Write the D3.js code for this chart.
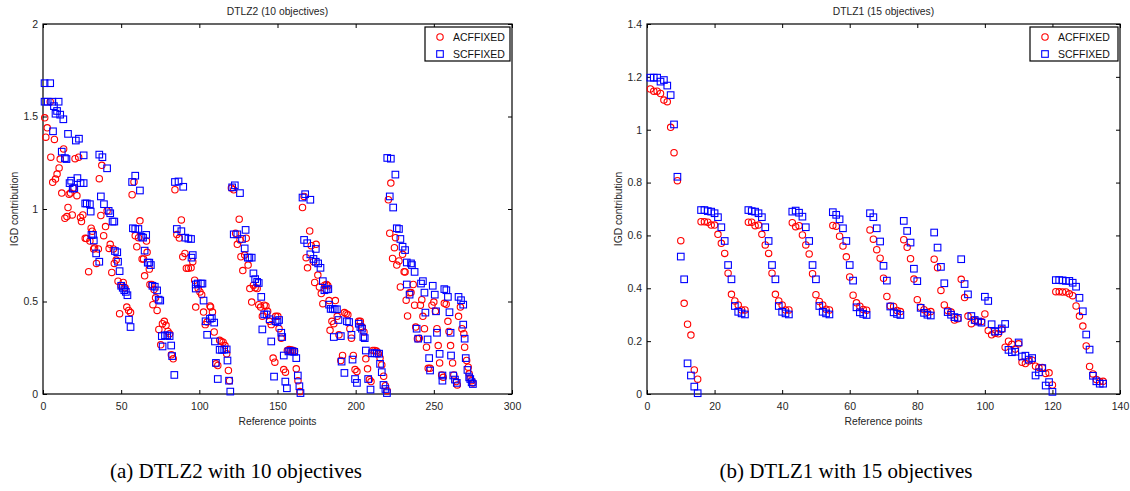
<!DOCTYPE html>
<html><head><meta charset="utf-8">
<script src="https://cdn.jsdelivr.net/npm/d3@7"></script>
<style>
html,body{margin:0;padding:0;background:#fff;}
svg{display:block;}
</style></head>
<body>
<svg id="chart" width="1130" height="491"></svg>
<script>
// ---------------- DATA ----------------
const seriesNames = ["ACFFIXED", "SCFFIXED"];

// Panel (a): DTLZ2, 10 objectives — [reference point, IGD contribution]
const dtlz2Acf = [
[1.1,1.493],[1.8,1.388],[2.7,1.439],[4.6,1.58],[5,1.28],[6.2,1.144],[7.3,1.376],[8,1.162],[9,1.189],[10.3,1.222],[11,1.27],[12,1.086],[13.2,1.325],[14,0.95],[15.3,0.959],[16,1.008],[16.7,1.08],[17.6,1.086],[18.7,0.968],[19.4,1.113],[20.5,1.272],[21.7,1.072],[22.8,1.28],[24,0.954],[24.6,0.932],[25.5,0.968],[27,0.842],[27.8,0.84],[29.2,0.661],[30,0.827],[30.8,0.896],[31.5,0.88],[32.4,0.784],[33,0.79],[34.2,0.706],[35.4,0.784],[36,1.164],[37,0.965],[37.6,1.236],[38.8,0.856],[40,0.905],[41,0.99],[42.3,0.787],[43,0.809],[44,0.657],[45,0.784],[45.6,0.706],[46.8,0.724],[48,0.61],[49,0.434],[50,0.585],[51.3,0.603],[52.5,0.574],[53.6,0.47],[54.8,0.452],[56,0.44],
[57,1.077],[58.2,1.146],[59,0.856],[60,0.796],[61.1,0.845],[62,0.936],[63.4,0.73],[64.3,0.73],[65,0.639],[66.2,0.827],[66.6,0.766],[68,0.675],[68.4,0.592],[69.6,0.592],[70.3,0.483],[71,0.565],[72,0.52],[73,0.452],[74.1,0.349],[75.3,0.266],[76.4,0.38],[77.6,0.393],[78.7,0.371],[79.9,0.338],[81,0.326],[82.1,0.212],[83.3,0.19],
[84.4,1.104],[85.6,0.862],[87.2,0.843],[88.5,0.941],[89.4,0.742],[90.8,0.76],[91.7,0.68],[93,0.68],[94.7,0.682],[95.8,0.715],[97,0.615],[97.7,0.47],[99.3,0.57],[100.4,0.552],[101.5,0.537],[102.7,0.443],[103.8,0.375],[105,0.389],[106.8,0.476],[107.2,0.47],[108.4,0.443],[109.5,0.335],[110.6,0.163],[111.8,0.154],[113,0.29],[114,0.284],[115.2,0.28],[116.4,0.262],[117.5,0.217],[118.6,0.127],[119.3,0.072],
[120.5,1.113],[122,1.104],[123.2,0.869],[124.3,0.809],[125.5,0.945],[126,0.833],[126.6,0.742],[127.8,0.667],[129,0.751],[130,0.842],[131.2,0.697],[132.3,0.57],[133.5,0.497],[134.6,0.588],[135.7,0.574],[137,0.57],[138,0.483],[139.2,0.47],[140.3,0.42],[141.5,0.48],[142.6,0.476],[143.7,0.447],[144.9,0.393],[146,0.375],[147.2,0.194],[148.3,0.172],[148.8,0.42],[150.2,0.42],[151,0.353],[152.4,0.302],[154,0.132],[155.1,0.118],[156.3,0.235],[157.4,0.24],[158.6,0.238],[159.7,0.236],[160.9,0.232],[162,0.136],[163.1,0.072],[164.3,0.013],
[166,1.008],[167,1.068],[168.3,0.737],[169.2,0.682],[170.6,0.881],[171.6,0.802],[173,0.715],[173.8,0.603],[174.7,0.809],[175.8,0.643],[176.8,0.579],[178,0.543],[179,0.488],[180.2,0.588],[181.4,0.592],[182.2,0.585],[183,0.505],[183.6,0.344],[184.8,0.393],[186,0.38],[187,0.505],[188.2,0.42],[189.3,0.32],[190.5,0.181],[191.6,0.208],[192.8,0.44],[193.9,0.434],[195,0.428],[196.3,0.353],[197.3,0.302],[198.5,0.208],[199.6,0.132],[200.8,0.121],[201.9,0.393],[203,0.393],[204.2,0.362],[205.3,0.335],[206.5,0.19],[207.6,0.136],[208.8,0.078],[209.8,0.067],[211,0.235],[212.2,0.235],[213.3,0.232],[214.5,0.217],[215.6,0.194],[216.7,0.157],[217.9,0.096],[219,0.045],[220.2,0.018],
[220.9,1.05],[221.8,0.869],[222.5,1.14],[223.6,0.733],[224.8,0.791],[225.5,0.845],[226.3,0.697],[227.7,0.719],[228.6,0.579],[230,0.755],[231,0.661],[231.6,0.66],[232.3,0.507],[233.2,0.422],[234.5,0.547],[235.4,0.548],[236.8,0.592],[237.7,0.48],[238.4,0.362],[239.5,0.299],[240.7,0.302],[241.4,0.48],[242.3,0.51],[243,0.42],[244,0.353],[245.3,0.253],[246.4,0.139],[247.6,0.139],[248.8,0.48],[250,0.497],[251,0.447],[252,0.353],[252.8,0.262],[253.7,0.168],[255,0.103],[256,0.09],[256.7,0.49],[257.9,0.485],[259,0.393],[259.7,0.338],[260.7,0.262],[262,0.168],[262.8,0.103],[264.3,0.067],[265,0.049],[265.8,0.42],[267,0.47],[268,0.353],[269.2,0.326],[269.7,0.253],[271,0.181],[272,0.145],[272.6,0.109],[273.3,0.085],[274.2,0.072],[275,0.06]
];

const dtlz2Scf = [
[1,1.68],[4.6,1.68],[1,1.58],[3,1.58],[6,1.58],[10,1.58],[7,1.556],[9,1.53],[8,1.515],[11,1.51],[13,1.485],[6.4,1.42],[16,1.406],[21,1.37],[23,1.38],[26,1.29],[36,1.294],[38,1.28],[41,1.22],[12,1.31],[14,1.275],[15,1.27],[17,1.14],[18,1.153],[19,1.11],[20,1.113],[22,1.167],[24,1.14],[26,1.14],[27,1.03],[28,1.03],[30,1.026],[30.5,0.986],[31,0.86],[32,0.86],[32.5,0.83],[34,0.76],[36,0.715],[37,1.068],[39,1.026],[42,0.99],[43,0.977],[44.5,0.932],[45.6,0.932],[46,0.773],[47.5,0.766],[48,0.715],[49,0.664],[50,0.585],[51,0.574],[52,0.561],[53,0.552],[54,0.534],[55,0.402],[56,0.362],
[57,1.146],[59,1.18],[62,1.10],[57.5,0.896],[59,0.892],[61,0.892],[63,0.85],[64,0.845],[66,0.86],[65,0.775],[67,0.71],[68,0.71],[69,0.697],[70,0.585],[71.5,0.58],[73,0.56],[74,0.51],[75,0.505],[76,0.313],[76.5,0.257],[78,0.317],[79.5,0.317],[81,0.313],[82,0.262],[82.6,0.205],[84,0.103],
[84.4,1.146],[86.7,1.149],[89.7,1.12],[85.6,0.892],[88.5,0.88],[91,0.845],[93,0.84],[94.7,0.838],[95.8,0.751],[95,0.737],[97.7,0.592],[99,0.597],[101,0.597],[102,0.597],[97.7,0.57],[102.7,0.505],[104,0.393],[105,0.32],[106.8,0.407],[108,0.41],[109.5,0.386],[110,0.284],[113,0.239],[114.5,0.239],[115.9,0.24],[110.6,0.168],[111.8,0.081],[117.5,0.241],[118,0.181],[119,0.072],[119.8,0.013],
[121,1.117],[122.7,1.128],[126,1.086],[122,0.863],[124.3,0.863],[127.3,0.838],[129.6,0.887],[129,0.787],[131,0.737],[132,0.737],[133.5,0.737],[134.6,0.652],[135.7,0.621],[137,0.606],[138,0.6],[139.6,0.525],[140.3,0.349],[141.5,0.43],[143,0.43],[145,0.404],[146,0.284],[147.8,0.094],[148.8,0.393],[150,0.389],[151,0.4],[152.4,0.331],[153,0.308],[154,0.208],[155,0.067],[156,0.031],[157,0.23],[158.3,0.232],[159.5,0.23],[160.7,0.228],[162,0.194],[163,0.1],[164,0.042],[164.7,0.005],
[166,1.062],[167.7,1.08],[171,1.05],[167,0.833],[169,0.815],[171,0.755],[173,0.73],[174.5,0.784],[174.5,0.715],[176,0.706],[177.5,0.682],[179,0.61],[180,0.561],[181.4,0.565],[182.5,0.567],[183,0.483],[184,0.46],[185.3,0.46],[186.6,0.458],[188,0.458],[186,0.308],[189,0.4],[190.5,0.313],[191,0.175],[192.8,0.114],[194.4,0.393],[195.8,0.389],[197.3,0.32],[198,0.186],[199.6,0.081],[200.8,0.06],[202,0.38],[203,0.362],[204,0.353],[204.9,0.308],[205.8,0.302],[206.5,0.235],[208,0.081],[209.5,0.024],[210.5,0.22],[212,0.22],[213.5,0.22],[215,0.218],[215.6,0.163],[216.7,0.118],[217.8,0.049],[219,0.027],[220,0.005],
[220.2,1.276],[222.5,1.272],[225.4,1.186],[221.8,1.068],[224,1.008],[226.3,0.896],[227.7,0.892],[228.6,0.838],[230,0.796],[231.6,0.778],[232.7,0.711],[235.4,0.706],[236,0.697],[237.7,0.66],[232.7,0.592],[234.5,0.537],[239,0.353],[240,0.299],[241.8,0.597],[243,0.61],[244,0.548],[244.6,0.44],[246,0.295],[247,0.194],[247.6,0.127],[249.3,0.585],[250.6,0.537],[251.4,0.447],[252,0.331],[253.7,0.217],[255.5,0.1],[255.5,0.072],[256.7,0.567],[258,0.561],[259,0.525],[260,0.442],[260.7,0.331],[261,0.208],[262.4,0.1],[263.5,0.078],[264.7,0.06],[265.8,0.525],[267.4,0.507],[268.8,0.483],[268.8,0.375],[269.7,0.299],[270.4,0.194],[271.5,0.13],[272.6,0.09],[273.3,0.081],[274.2,0.063],[275,0.054]
];

// Panel (b): DTLZ1, 15 objectives — IGD contribution for reference points 1..135
const dtlz1Acf = [
1.154,1.146,1.146,1.137,1.112,1.106,1.009,0.913,0.807,0.58,0.343,0.264,0.223,0.091,0.056,
0.652,0.652,0.65,0.639,0.639,0.604,0.57,0.532,0.457,0.377,0.352,0.337,0.318,0.318,
0.65,0.65,0.637,0.639,0.604,0.564,0.532,0.457,0.377,0.352,0.337,0.318,0.318,
0.648,0.633,0.637,0.602,0.564,0.53,0.455,0.376,0.35,0.337,0.321,0.318,
0.638,0.635,0.597,0.56,0.519,0.443,0.374,0.345,0.332,0.32,0.317,
0.621,0.586,0.546,0.514,0.438,0.369,0.333,0.331,0.316,0.312,
0.584,0.555,0.512,0.435,0.357,0.328,0.319,0.309,0.312,
0.51,0.478,0.392,0.337,0.316,0.31,0.28,0.285,
0.434,0.365,0.295,0.266,0.278,0.274,0.274,
0.303,0.24,0.224,0.23,0.228,0.244,
0.177,0.2,0.188,0.17,0.19,
0.12,0.115,0.125,0.128,
0.105,0.1,0.1,
0.078,0.08,
0.034,
0.387,0.387,0.386,0.386,0.379,0.372,0.333,0.295,0.257,0.182,0.104,0.076,0.055,0.047,0.048
];
const dtlz1Scf = [
1.197,1.197,1.197,1.182,1.188,1.167,1.131,1.02,0.822,0.52,0.434,0.116,0.07,0.028,0.003,
0.696,0.696,0.692,0.69,0.684,0.669,0.631,0.579,0.488,0.434,0.333,0.311,0.305,0.301,
0.696,0.692,0.69,0.684,0.669,0.631,0.579,0.488,0.434,0.333,0.311,0.305,0.301,
0.69,0.694,0.686,0.671,0.631,0.579,0.488,0.434,0.333,0.311,0.305,0.301,
0.688,0.678,0.661,0.627,0.579,0.488,0.429,0.328,0.309,0.303,0.299,
0.684,0.669,0.627,0.577,0.485,0.429,0.331,0.309,0.303,0.299,
0.655,0.617,0.573,0.474,0.427,0.326,0.307,0.3,0.297,
0.611,0.554,0.481,0.419,0.31,0.3,0.291,0.288,
0.51,0.416,0.377,0.295,0.28,0.274,0.27,
0.368,0.352,0.264,0.236,0.238,0.248,
0.265,0.167,0.158,0.16,0.195,
0.142,0.145,0.13,0.136,
0.07,0.082,0.098,
0.032,0.045,
0.008,
0.431,0.431,0.43,0.428,0.428,0.421,0.406,0.364,0.313,0.225,0.168,0.069,0.048,0.039,0.039
];

const panelTitles = ["DTLZ2 (10 objectives)", "DTLZ1 (15 objectives)"];
const captions = ["(a) DTLZ2 with 10 objectives", "(b) DTLZ1 with 15 objectives"];
const xTicksA = [0, 50, 100, 150, 200, 250, 300];
const yTicksA = [0, 0.5, 1, 1.5, 2];
const xTicksB = [0, 20, 40, 60, 80, 100, 120, 140];
const yTicksB = [0, 0.2, 0.4, 0.6, 0.8, 1, 1.2, 1.4];
const xLabel = "Reference points";
const yLabel = "IGD contribution";

// ---------------- DRAW ----------------
const svg = d3.select("#chart");
const FONT = "'Liberation Sans', Arial, Helvetica, sans-serif";
const RED = "#ff0000", BLUE = "#0000ff";

function panel(cfg) {
  const {x0, x1, y0, y1, xDomain, yDomain, xTicks, yTicks, acf, scf, title, caption, capX, legX} = cfg;
  const x = d3.scaleLinear().domain(xDomain).range([x0, x1]);
  const y = d3.scaleLinear().domain(yDomain).range([y1, y0]);
  const g = svg.append("g");
  const fmt = d => d3.format("~g")(d);

  const styleAxis = sel => {
    sel.select(".domain").remove();
    sel.selectAll(".tick line").attr("stroke", "#000").attr("stroke-width", 1);
    sel.selectAll(".tick text").attr("fill", "#262626").style("font-family", FONT).style("font-size", "10.5px");
  };

  g.append("g").attr("transform", `translate(0,${y1})`)
    .call(d3.axisBottom(x).tickValues(xTicks).tickFormat(fmt).tickSize(-4).tickPadding(9)).call(styleAxis);
  g.append("g").attr("transform", `translate(0,${y0})`)
    .call(d3.axisTop(x).tickValues(xTicks).tickFormat("").tickSize(-4)).call(styleAxis);
  g.append("g").attr("transform", `translate(${x0},0)`)
    .call(d3.axisLeft(y).tickValues(yTicks).tickFormat(fmt).tickSize(-4).tickPadding(5)).call(styleAxis);
  g.append("g").attr("transform", `translate(${x1},0)`)
    .call(d3.axisRight(y).tickValues(yTicks).tickFormat("").tickSize(-4)).call(styleAxis);

  g.append("rect").attr("x", x0).attr("y", y0).attr("width", x1 - x0).attr("height", y1 - y0)
    .attr("fill", "none").attr("stroke", "#000").attr("stroke-width", 1.2);

  // markers
  g.append("g").selectAll("circle").data(acf).join("circle")
    .attr("cx", d => x(d[0])).attr("cy", d => y(d[1])).attr("r", 3.2)
    .attr("fill", "none").attr("stroke", RED).attr("stroke-width", 1.1);
  const s = 6.6;
  g.append("g").selectAll("rect").data(scf).join("rect")
    .attr("x", d => x(d[0]) - s / 2).attr("y", d => y(d[1]) - s / 2).attr("width", s).attr("height", s)
    .attr("fill", "none").attr("stroke", BLUE).attr("stroke-width", 1.1);

  // title + axis labels
  g.append("text").attr("x", (x0 + x1) / 2).attr("y", 14.5).attr("text-anchor", "middle")
    .style("font-family", FONT).style("font-size", "10.3px").attr("fill", "#262626").text(title);
  g.append("text").attr("x", (x0 + x1) / 2).attr("y", 425).attr("text-anchor", "middle")
    .style("font-family", FONT).style("font-size", "10.3px").attr("fill", "#262626").text(xLabel);
  g.append("text").attr("transform", `translate(${x0 - 25},${(y0 + y1) / 2}) rotate(-90)`)
    .attr("text-anchor", "middle")
    .style("font-family", FONT).style("font-size", "10.3px").attr("fill", "#262626").text(yLabel);

  // legend
  const lg = g.append("g");
  lg.append("rect").attr("x", legX).attr("y", 27).attr("width", x1 - 2 - legX).attr("height", 34)
    .attr("fill", "#fff").attr("stroke", "#000").attr("stroke-width", 1.2);
  lg.append("circle").attr("cx", legX + 15).attr("cy", 37).attr("r", 3.2)
    .attr("fill", "none").attr("stroke", RED).attr("stroke-width", 1.1);
  lg.append("rect").attr("x", legX + 15 - s / 2).attr("y", 54 - s / 2).attr("width", s).attr("height", s)
    .attr("fill", "none").attr("stroke", BLUE).attr("stroke-width", 1.1);
  seriesNames.forEach((n, i) => {
    lg.append("text").attr("x", legX + 28).attr("y", 41 + i * 17)
      .style("font-family", FONT).style("font-size", "10.5px").attr("fill", "#111").text(n);
  });

  // caption
  svg.append("text").attr("x", capX).attr("y", 478).attr("text-anchor", "middle")
    .style("font-family", "'Liberation Serif', 'Times New Roman', serif").style("font-size", "21px")
    .attr("fill", "#000").text(caption);
}

panel({x0: 43, x1: 512, y0: 24, y1: 394, xDomain: [0, 300], yDomain: [0, 2],
  xTicks: xTicksA, yTicks: yTicksA, acf: dtlz2Acf, scf: dtlz2Scf,
  title: panelTitles[0], caption: captions[0], capX: 236, legX: 425});

panel({x0: 647, x1: 1120, y0: 24, y1: 394, xDomain: [0, 140], yDomain: [0, 1.4],
  xTicks: xTicksB, yTicks: yTicksB,
  acf: dtlz1Acf.map((v, i) => [i + 1, v]), scf: dtlz1Scf.map((v, i) => [i + 1, v]),
  title: panelTitles[1], caption: captions[1], capX: 846, legX: 1030});
</script>
</body></html>
